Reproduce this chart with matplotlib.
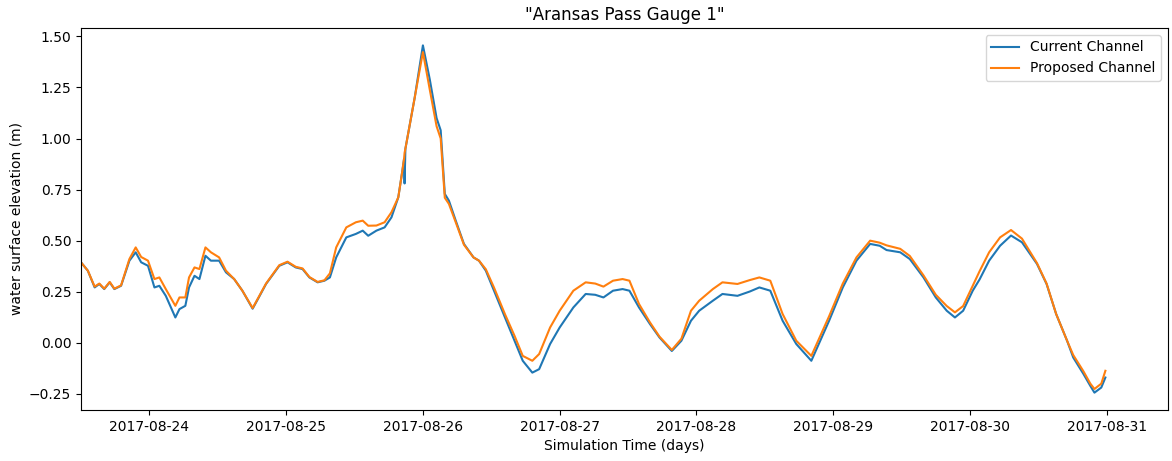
import numpy as np
import pandas as pd
import matplotlib
matplotlib.use("Agg")
import matplotlib.pyplot as plt
import matplotlib.dates as mdates

# simulation time, in days after 2017-08-24 00:00
t_days = [-0.50, -0.45, -0.40, -0.366, -0.33, -0.29, -0.256, -0.207, -0.146, -0.10,
          -0.06, -0.01, 0.037, 0.073, 0.12, 0.19, 0.22, 0.263, 0.29, 0.33,
          0.366, 0.41, 0.45, 0.51, 0.56, 0.62, 0.68, 0.755, 0.80, 0.853,
          0.95, 1.01, 1.07, 1.12, 1.17, 1.23, 1.28, 1.32, 1.366, 1.44,
          1.51, 1.56, 1.60, 1.66, 1.72, 1.77, 1.82, 1.85, 1.862, 1.866,
          1.872, 1.94, 2.0, 2.05, 2.10, 2.13, 2.16, 2.19, 2.24, 2.30,
          2.37, 2.41, 2.46, 2.52, 2.60, 2.67, 2.73, 2.80, 2.85, 2.93,
          3.0, 3.10, 3.19, 3.26, 3.32, 3.39, 3.46, 3.51, 3.58, 3.66,
          3.73, 3.82, 3.89, 3.96, 4.02, 4.12, 4.19, 4.30, 4.39, 4.46,
          4.54, 4.63, 4.73, 4.84, 4.97, 5.07, 5.17, 5.27, 5.34, 5.39,
          5.49, 5.56, 5.66, 5.75, 5.83, 5.89, 5.95, 6.02, 6.07, 6.14,
          6.22, 6.30, 6.38, 6.49, 6.56, 6.63, 6.71, 6.755, 6.83, 6.88,
          6.91, 6.96, 6.99]

# water surface elevation (m)
current = [0.394, 0.353, 0.271, 0.288, 0.263, 0.296, 0.263, 0.279, 0.402, 0.443,
           0.394, 0.377, 0.271, 0.279, 0.230, 0.124, 0.165, 0.181, 0.271, 0.328,
           0.312, 0.426, 0.402, 0.402, 0.345, 0.312, 0.255, 0.167, 0.222, 0.288,
           0.377, 0.394, 0.369, 0.361, 0.320, 0.296, 0.304, 0.320, 0.418, 0.516,
           0.533, 0.549, 0.524, 0.549, 0.565, 0.614, 0.712, 0.843, 0.900, 0.780,
           0.950, 1.200, 1.456, 1.290, 1.100, 1.040, 0.729, 0.696, 0.598, 0.484,
           0.418, 0.402, 0.353, 0.255, 0.124, 0.010, -0.088, -0.146, -0.129, -0.006,
           0.075, 0.173, 0.239, 0.235, 0.222, 0.255, 0.263, 0.255, 0.173, 0.092,
           0.026, -0.040, 0.010, 0.108, 0.157, 0.206, 0.239, 0.230, 0.251, 0.271,
           0.255, 0.108, -0.006, -0.088, 0.108, 0.271, 0.402, 0.484, 0.475, 0.454,
           0.443, 0.410, 0.320, 0.222, 0.157, 0.124, 0.157, 0.255, 0.310, 0.402,
           0.475, 0.525, 0.492, 0.386, 0.288, 0.141, 0.010, -0.072, -0.153, -0.211,
           -0.244, -0.219, -0.170]

proposed = [0.394, 0.353, 0.275, 0.290, 0.265, 0.298, 0.265, 0.281, 0.410, 0.467,
            0.420, 0.402, 0.312, 0.320, 0.263, 0.181, 0.222, 0.222, 0.320, 0.369,
            0.361, 0.467, 0.443, 0.418, 0.353, 0.312, 0.255, 0.170, 0.225, 0.290,
            0.380, 0.397, 0.372, 0.364, 0.322, 0.298, 0.306, 0.340, 0.467, 0.565,
            0.590, 0.598, 0.573, 0.574, 0.590, 0.639, 0.712, 0.843, 0.900, 0.930,
            0.950, 1.200, 1.423, 1.240, 1.060, 1.000, 0.710, 0.680, 0.590, 0.480,
            0.418, 0.402, 0.360, 0.270, 0.140, 0.034, -0.064, -0.088, -0.055, 0.075,
            0.157, 0.255, 0.296, 0.290, 0.275, 0.304, 0.312, 0.304, 0.190, 0.100,
            0.030, -0.035, 0.020, 0.157, 0.206, 0.263, 0.296, 0.288, 0.307, 0.320,
            0.304, 0.141, 0.010, -0.064, 0.130, 0.290, 0.418, 0.500, 0.490, 0.477,
            0.460, 0.425, 0.330, 0.235, 0.180, 0.149, 0.180, 0.279, 0.350, 0.443,
            0.516, 0.552, 0.510, 0.390, 0.290, 0.141, 0.010, -0.060, -0.140, -0.200,
            -0.226, -0.200, -0.137]

start = pd.Timestamp("2017-08-24")
times = start + pd.to_timedelta(np.array(t_days), unit="D")

fig = plt.figure(figsize=(11.72, 4.61), dpi=100)
ax = fig.add_axes([0.0691, 0.1106, 0.9275, 0.8287])

ax.plot(times, current, color="tab:blue", lw=1.5, label="Current Channel")
ax.plot(times, proposed, color="tab:orange", lw=1.5, label="Proposed Channel")

ax.set_xlim(pd.Timestamp("2017-08-23 12:00"), pd.Timestamp("2017-08-31 10:45"))
ax.xaxis.set_major_locator(mdates.DayLocator())
ax.xaxis.set_major_formatter(mdates.DateFormatter("%Y-%m-%d"))
ax.set_yticks([-0.25, 0.0, 0.25, 0.5, 0.75, 1.0, 1.25, 1.5])

ax.set_title('"Aransas Pass Gauge 1"')
ax.set_xlabel("Simulation Time (days)")
ax.set_ylabel("water surface elevation (m)")
ax.legend(loc="upper right")

fig.savefig("out.png", dpi=100)
